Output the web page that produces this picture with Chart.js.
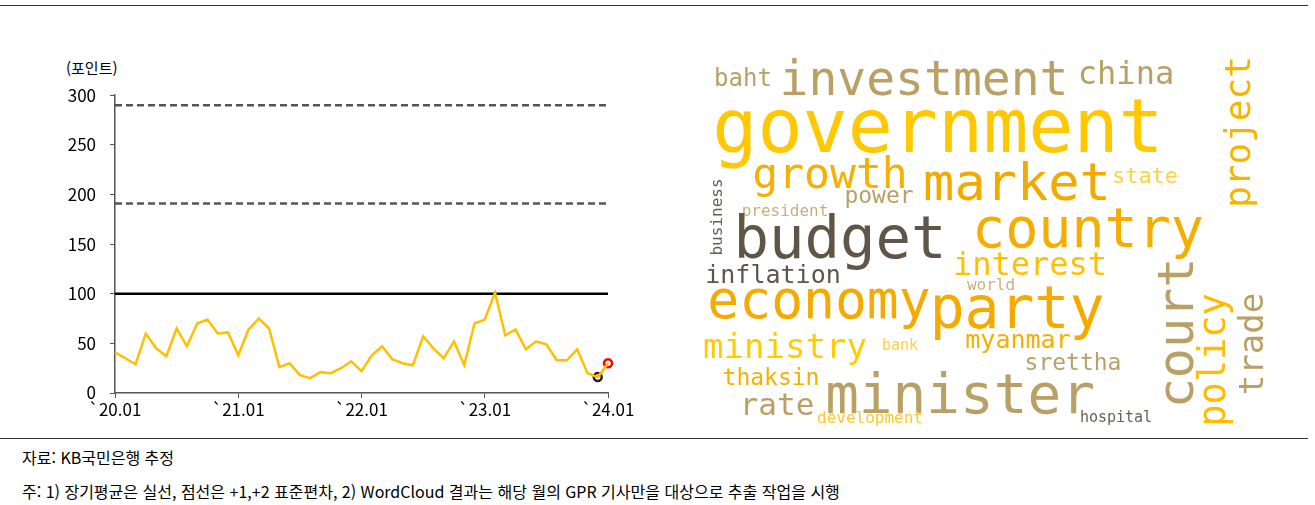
<!DOCTYPE html>
<html lang="ko">
<head>
<meta charset="UTF-8" />
<title>GPR WordCloud</title>
<script src="https://cdn.jsdelivr.net/npm/chart.js"></script>
<style>
body { margin: 0; width: 1315px; height: 505px; background: #fff; position: relative; overflow: hidden;
  font-family: 'Noto Sans CJK KR', 'Noto Sans', sans-serif; color: #000; }
.rule { position: absolute; left: 0; width: 1308px; height: 1px; background: #333; }
#lineWrap { position: absolute; left: 0; top: 71px; width: 640px; height: 352px; }
#cloudWrap { position: absolute; left: 690px; top: 50px; width: 590px; height: 390px; }
.unit { position: absolute; left: 66px; top: 57px; font-size: 15px; }
.note { position: absolute; left: 22px; font-size: 16px; }
</style>
</head>
<body>
<div class="rule" style="top:5px"></div>
<div class="unit">(포인트)</div>
<div id="lineWrap"><canvas id="line"></canvas></div>
<div id="cloudWrap"><canvas id="cloud"></canvas></div>
<div class="rule" style="top:438px"></div>
<div class="note" style="top:445px">자료: KB국민은행 추정</div>
<div class="note" style="top:479px">주: 1) 장기평균은 실선, 점선은 +1,+2 표준편차, 2) WordCloud 결과는 해당 월의 GPR 기사만을 대상으로 추출 작업을 시행</div>

<script>
// monthly index, 2020.01 ~ 2024.01
const gprValues = [41, 35, 29, 60, 45, 37, 65, 47, 70, 74, 60, 61,
  38, 64, 75, 65, 26, 30, 18, 15, 21, 20, 25, 32,
  22, 38, 47, 34, 30, 28, 57, 45, 35, 52, 28, 70,
  74, 101, 58, 64, 44, 52, 49, 33, 33, 44, 20, 16, 30];
const longAvg = 100;
const plus1Sd = 191;
const plus2Sd = 290;
const yearLabels = ['`20.01', '`21.01', '`22.01', '`23.01', '`24.01'];

const months = gprValues.map((v, i) => (i % 12 === 0 ? yearLabels[i / 12] : ''));
const prevPoint = gprValues.map((v, i) => (i === 47 ? v : null));
const lastPoint = gprValues.map((v, i) => (i === 48 ? v : null));

const refLines = {
  id: 'refLines',
  beforeDatasetsDraw(chart) {
    const { ctx, chartArea, scales } = chart;
    const draw = (val, dash, color, w) => {
      const y = scales.y.getPixelForValue(val);
      ctx.save();
      ctx.strokeStyle = color;
      ctx.lineWidth = w;
      ctx.setLineDash(dash);
      ctx.beginPath();
      ctx.moveTo(chartArea.left, y);
      ctx.lineTo(chartArea.right, y);
      ctx.stroke();
      ctx.restore();
    };
    draw(plus2Sd, [7, 4], '#555', 2.5);
    draw(plus1Sd, [7, 4], '#555', 2.5);
    draw(longAvg, [], '#000', 2.5);
  }
};

new Chart(document.getElementById('line'), {
  type: 'line',
  data: {
    labels: months,
    datasets: [
      { data: gprValues, borderColor: '#FFC000', borderWidth: 2.5, pointRadius: 0, tension: 0 },
      { data: prevPoint, borderColor: '#222', backgroundColor: '#fff', borderWidth: 2.5, pointRadius: 4 },
      { data: lastPoint, borderColor: '#FF0000', backgroundColor: '#fff', borderWidth: 2.5, pointRadius: 4 }
    ]
  },
  options: {
    responsive: true, maintainAspectRatio: false, animation: false,
    layout: { padding: { top: 6, right: 32, left: 0, bottom: 0 } },
    plugins: { legend: { display: false }, tooltip: { enabled: false } },
    scales: {
      x: {
        afterFit: s => { s.height = 30; },
        border: { color: '#555', width: 1.5 },
        grid: { drawOnChartArea: false, tickLength: 5,
          color: c => (c.index % 12 === 0 ? '#555' : 'rgba(0,0,0,0)') },
        ticks: { autoSkip: false, maxRotation: 0, color: '#000', padding: 1,
          font: { family: 'Noto Sans CJK KR', size: 17 } }
      },
      y: {
        min: 0, max: 300,
        afterFit: s => { s.width = 115; },
        border: { color: '#555', width: 1.5 },
        grid: { drawOnChartArea: false, tickLength: 5, color: '#555' },
        ticks: { stepSize: 50, color: '#000', padding: 14,
          font: { family: 'Noto Sans CJK KR', size: 17 } }
      }
    }
  },
  plugins: [refLines]
});

// word cloud: page position (baseline, centre), font size, rotation
const words = ['government', 'investment', 'baht', 'china', 'project', 'growth', 'market', 'state', 'power',
  'president', 'business', 'budget', 'country', 'interest', 'inflation', 'world', 'court', 'economy', 'party',
  'policy', 'trade', 'ministry', 'bank', 'myanmar', 'srettha', 'thaksin', 'minister', 'rate', 'development', 'hospital'];
const wordX = [938, 924, 743, 1126, 1250, 830, 1017, 1145, 879, 785, 722, 840, 1088, 1030, 773, 991, 1193, 819, 1017,
  1225, 1263, 785, 900, 1018, 1073, 771, 960, 777, 870, 1116];
const wordY = [152, 95, 86, 84, 132, 188, 200, 183, 203, 216, 217, 258, 247, 275, 283, 290, 333, 318, 328,
  360, 344, 358, 350, 348, 370, 385, 413, 415, 423, 422];
const wordSize = [75, 48, 24, 32, 36, 43, 52, 22, 23, 16, 16, 59, 55, 32, 25, 16, 50, 53, 58,
  37, 34, 34, 15, 25, 23, 23, 56, 31, 16, 15];
const wordRot = [0, 0, 0, 0, -90, 0, 0, 0, 0, 0, -90, 0, 0, 0, 0, 0, -90, 0, 0,
  -90, -90, 0, 0, 0, 0, 0, 0, 0, 0, 0];
const wordColor = ['#FFC800', '#B9A064', '#B9A064', '#B9A064', '#F5B400', '#F5B000', '#F2A900', '#FFD040', '#B9A064',
  '#C8B080', '#6A6050', '#5F5648', '#F5AD00', '#FFC000', '#5F5648', '#C8B080', '#B9A064', '#F5AA00', '#F5AA00',
  '#FFBB00', '#B9A064', '#FFCC00', '#FFD040', '#F5B000', '#B9A064', '#F5B000', '#B9A064', '#B9A064', '#FFC830', '#6A6050'];

const wordPlugin = {
  id: 'words',
  afterDatasetsDraw(chart) {
    const { ctx, scales } = chart;
    words.forEach((w, i) => {
      ctx.save();
      ctx.translate(scales.x.getPixelForValue(wordX[i]), scales.y.getPixelForValue(wordY[i]));
      ctx.rotate(wordRot[i] * Math.PI / 180);
      ctx.font = wordSize[i] + 'px "DejaVu Sans Mono"';
      ctx.fillStyle = wordColor[i];
      ctx.textAlign = 'center';
      ctx.textBaseline = 'alphabetic';
      ctx.fillText(w, 0, 0);
      ctx.restore();
    });
  }
};

new Chart(document.getElementById('cloud'), {
  type: 'scatter',
  data: { datasets: [{ data: words.map((w, i) => ({ x: wordX[i], y: wordY[i] })), pointRadius: 0 }] },
  options: {
    responsive: true, maintainAspectRatio: false, animation: false,
    layout: { padding: 0 },
    plugins: { legend: { display: false }, tooltip: { enabled: false } },
    scales: {
      x: { display: false, min: 690, max: 1280 },
      y: { display: false, min: 50, max: 440, reverse: true }
    }
  },
  plugins: [wordPlugin]
});
</script>
</body>
</html>
